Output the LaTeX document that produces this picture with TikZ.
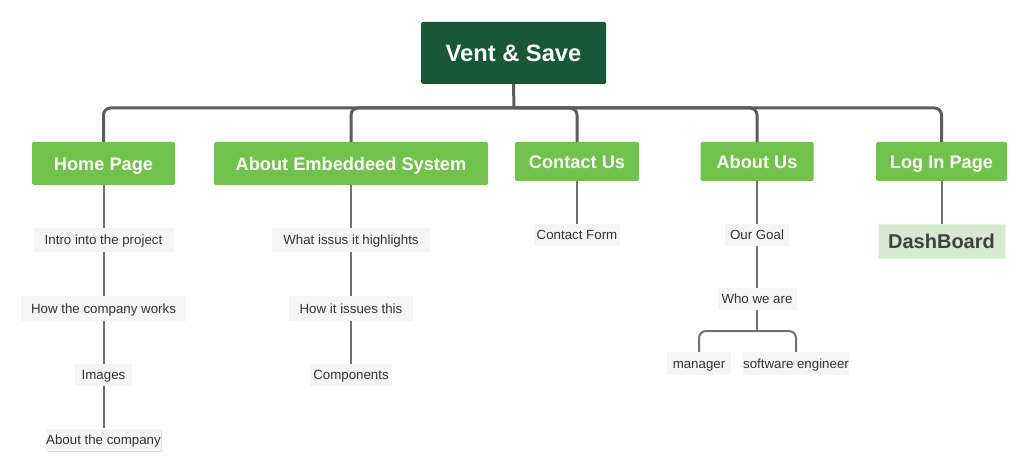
\documentclass[tikz,border=0pt]{standalone}
\usepackage{fontspec}
\setmainfont{Liberation Sans}
\usetikzlibrary{shadows}
\definecolor{rootgreen}{HTML}{185737}
\definecolor{topgreen}{HTML}{71C24B}
\definecolor{linegray}{HTML}{5C5C5C}
\definecolor{sublinegray}{HTML}{707070}
\definecolor{leaffill}{HTML}{F5F5F5}
\definecolor{leaftext}{HTML}{333333}
\definecolor{dashfill}{HTML}{D6EAD0}
\definecolor{dashtext}{HTML}{404040}
\begin{document}
\begin{tikzpicture}[x=1pt,y=-1pt,
  rootbox/.style={fill=rootgreen, text=white, font=\fontsize{23.7}{26}\selectfont\bfseries,
    text height=17pt, text depth=0pt,
    minimum width=185pt, minimum height=62pt, inner sep=0pt, rounded corners=1.5pt},
  topbox/.style={fill=topgreen, text=white, font=\fontsize{18.2}{20}\selectfont\bfseries,
    text height=13.1pt, text depth=0pt,
    minimum height=39pt, inner sep=0pt, rounded corners=1.5pt},
  leafbox/.style={fill=leaffill, text=leaftext, font=\fontsize{13.3}{15}\selectfont,
    text height=9.6pt, text depth=0pt,
    minimum height=22pt, inner sep=0pt},
  dashbox/.style={fill=dashfill, draw=dashfill!60!white, line width=1pt, text=dashtext,
    font=\fontsize{20}{22}\selectfont\bfseries, text height=14.4pt, text depth=0pt,
    minimum width=127pt, minimum height=33pt, inner sep=0pt},
  mainline/.style={draw=linegray, line width=3pt, rounded corners=7pt},
  subline/.style={draw=sublinegray, line width=2pt, rounded corners=7pt}
]
\path[use as bounding box] (0,0) coordinate (tl) rectangle (1029,476) coordinate (br);

% root
\node[rootbox] (root) at (513.5,53) {Vent \& Save};

% top level
\node[topbox, minimum width=143pt, minimum height=43pt] (home) at (103.5,163.5) {Home Page};
\node[topbox, minimum width=274pt, minimum height=43pt] (emb) at (351,163.5) {About Embeddeed System};
\node[topbox, minimum width=124pt] (contact) at (577,161.5) {Contact Us};
\node[topbox, minimum width=113pt] (aboutus) at (757,161.5) {About Us};
\node[topbox, minimum width=131pt] (login) at (941.5,161.5) {Log In Page};

% trunk
\coordinate (hub) at (514,108);
\draw[mainline] (root.south) -- (hub);
\draw[mainline] (hub) -| (home.north);
\draw[mainline] (hub) -| (emb.north);
\draw[mainline] (hub) -| (contact.north);
\draw[mainline] (hub) -| (aboutus.north);
\draw[mainline] (hub) -| (login.north);

% leaves
\node[leafbox, minimum width=140pt, minimum height=24pt] (intro) at (103.5,240) {Intro into the project};
\node[leafbox, minimum width=165pt, minimum height=25pt] (howco) at (103.5,308.5) {How the company works};
\node[leafbox, minimum width=57pt] (images) at (103.5,375) {Images};
\node[leafbox, fill=white!96!black, minimum width=114pt, drop shadow={shadow xshift=1.5pt, shadow yshift=-1.5pt, opacity=0.25}] (aboutco) at (103.5,439.5) {About the company};

\node[leafbox, minimum width=158pt, minimum height=24pt] (what) at (351,240) {What issus it highlights};
\node[leafbox, minimum width=124pt, minimum height=25pt] (howit) at (351,308.5) {How it issues this};
\node[leafbox, minimum width=82pt] (comp) at (351,375) {Components};

\node[leafbox, minimum width=86pt] (form) at (577,235) {Contact Form};

\node[leafbox, minimum width=64pt] (goal) at (757,235) {Our Goal};
\node[leafbox, minimum width=79pt] (who) at (757,299) {Who we are};
\node[leafbox, minimum width=64pt, minimum height=23pt] (mgr) at (699,363.5) {manager};
\node[leafbox, minimum width=106pt, minimum height=23pt] (soft) at (796,363.5) {software engineer};

\node[dashbox] (dash) at (941.5,241.5) {DashBoard};

% sub connectors
\draw[subline] (home.south) -- (intro.north);
\draw[subline] (intro.south) -- (howco.north);
\draw[subline] (howco.south) -- (images.north);
\draw[subline] (images.south) -- (aboutco.north);

\draw[subline] (emb.south) -- (what.north);
\draw[subline] (what.south) -- (howit.north);
\draw[subline] (howit.south) -- (comp.north);

\draw[subline] (contact.south) -- (form.north);

\draw[subline] (aboutus.south) -- (goal.north);
\draw[subline] (goal.south) -- (who.north);
\coordinate (whohub) at (757,331);
\draw[subline] (who.south) -- (whohub);
\draw[subline] (whohub) -| (mgr.north);
\draw[subline] (whohub) -| (soft.north);

\draw[subline] (login.south) -- (dash.north);
\end{tikzpicture}
\end{document}
